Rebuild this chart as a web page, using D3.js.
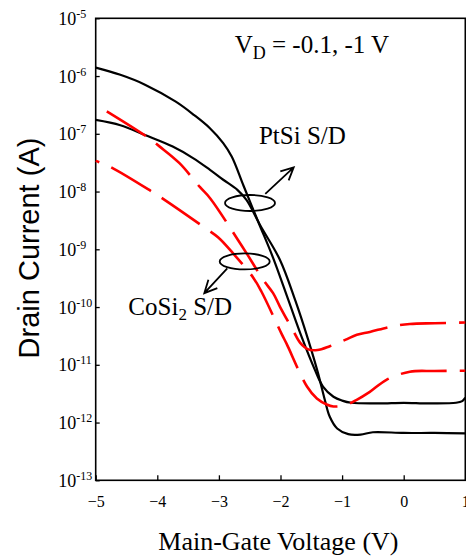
<!DOCTYPE html>
<html>
<head>
<meta charset="utf-8">
<script src="https://cdn.jsdelivr.net/npm/d3@7"></script>
<style>
  body { margin: 0; background: #fff; }
  svg { display: block; }
</style>
</head>
<body>
<div id="chart"></div>
<script>
// gate voltage (V) and drain current (A)
const vPtSiHigh = [-5, -4.6, -4.2, -3.7, -3.4, -3.15, -2.93, -2.79, -2.6, -2.35, -2.12, -1.87, -1.66, -1.44, -1.31, -1.14, -1.0, -0.85, -0.4, 0, 0.4, 0.85, 0.95, 1.0];
const iPtSiHigh = [1.4e-6, 1.05e-6, 7.1e-7, 3.6e-7, 2.1e-7, 1.26e-7, 6.9e-8, 4.0e-8, 1.26e-8, 2.8e-9, 7.1e-10, 1.3e-10, 3.1e-11, 8.1e-12, 4.2e-12, 2.8e-12, 2.4e-12, 2.2e-12, 2.15e-12, 2.2e-12, 2.15e-12, 2.2e-12, 2.35e-12, 2.7e-12];

const vPtSiLow = [-5, -4.6, -4.2, -3.75, -3.42, -3.15, -2.93, -2.7, -2.55, -2.33, -2.01, -1.76, -1.55, -1.39, -1.28, -1.2, -1.08, -0.9, -0.7, -0.5, 0, 0.5, 1.0];
const iPtSiLow = [1.74e-7, 1.41e-7, 9.5e-8, 6.0e-8, 3.8e-8, 2.4e-8, 1.6e-8, 1.07e-8, 7.1e-9, 2.6e-9, 6.6e-10, 1.3e-10, 2.7e-11, 7.1e-12, 2.45e-12, 1.26e-12, 7.9e-13, 6.3e-13, 6.2e-13, 6.8e-13, 6.6e-13, 6.6e-13, 6.5e-13];

const vCoSiHigh = [-4.82, -4.17, -3.96, -3.64, -3.31, -3.14, -2.69, -2.55, -2.28, -2.12, -2.01, -1.8, -1.68, -1.55, -1.4, -1.2, -0.95, -0.76, -0.55, -0.2, 0.1, 0.5, 1.0];
const iCoSiHigh = [2.45e-7, 8.9e-8, 6.0e-8, 3.1e-8, 1.2e-8, 7.6e-9, 1.45e-9, 8.5e-10, 2.95e-10, 1.74e-10, 1.02e-10, 4.0e-11, 2.4e-11, 1.85e-11, 1.8e-11, 2.1e-11, 2.7e-11, 3.3e-11, 3.7e-11, 4.6e-11, 5.1e-11, 5.25e-11, 5.4e-11];

const vCoSiLow = [-5, -4.77, -4.09, -3.9, -3.25, -3.01, -2.77, -2.44, -2.31, -1.98, -1.9, -1.57, -1.41, -1.25, -1.14, -0.95, -0.77, -0.55, -0.28, 0.1, 0.5, 1.0];
const iCoSiLow = [3.4e-8, 2.7e-8, 1.0e-8, 7.4e-9, 2.45e-9, 1.6e-9, 8.5e-10, 3.2e-10, 1.86e-10, 3.4e-11, 2.3e-11, 4.2e-12, 2.6e-12, 2.05e-12, 1.9e-12, 2.0e-12, 2.45e-12, 3.4e-12, 5.5e-12, 7.6e-12, 7.8e-12, 7.9e-12];

const xTicks = [-5, -4, -3, -2, -1, 0, 1];
const yExponents = [-5, -6, -7, -8, -9, -10, -11, -12, -13];

const W = 466, H = 557;
const svg = d3.select("#chart").append("svg")
  .attr("width", W)
  .attr("height", H);

const x = d3.scaleLinear().domain([-5, 1]).range([95.7, 465.3]);
const y = d3.scaleLog().domain([1e-13, 1e-5]).range([480.3, 18.3]);

const serif = "'Liberation Serif', 'Times New Roman', serif";
const sans = "'Liberation Sans', Arial, sans-serif";

// x axis, ticks pointing inward
const xAxis = d3.axisBottom(x)
  .tickValues(xTicks)
  .tickSizeInner(-5)
  .tickSizeOuter(0)
  .tickPadding(15)
  .tickFormat(d3.format("d"));

const gx = svg.append("g")
  .attr("transform", "translate(0," + y(1e-13) + ")")
  .call(xAxis);
gx.select(".domain").remove();
gx.selectAll("text")
  .style("font-family", serif)
  .style("font-size", "16px")
  .attr("fill", "#000");
gx.selectAll("line").attr("stroke-width", 1.3);

// y axis, ticks pointing inward, labels 10^n
const yAxis = d3.axisLeft(y)
  .tickValues(yExponents.map(e => Math.pow(10, e)))
  .tickSizeInner(-4)
  .tickSizeOuter(0)
  .tickFormat("");

const gy = svg.append("g")
  .attr("transform", "translate(" + x(-5) + ",0)")
  .call(yAxis);
gy.select(".domain").remove();
gy.selectAll("line").attr("stroke-width", 1.3);
gy.selectAll(".tick text").remove();
gy.selectAll(".tick").each(function(d) {
  const t = d3.select(this).append("text")
    .attr("x", -37.5)
    .attr("y", 6)
    .attr("text-anchor", "start")
    .attr("fill", "#000")
    .style("font-family", serif)
    .style("font-size", "18px");
  t.append("tspan").text("10");
  t.append("tspan")
    .attr("dy", -7)
    .style("font-size", "12px")
    .text("-" + Math.round(-Math.log10(d)));
});

// frame
svg.append("rect")
  .attr("x", x(-5))
  .attr("y", y(1e-5))
  .attr("width", x(1) - x(-5))
  .attr("height", y(1e-13) - y(1e-5))
  .attr("fill", "none")
  .attr("stroke", "#000")
  .attr("stroke-width", 1.6);

// curves
const line = d3.line()
  .x(d => x(d[0]))
  .y(d => y(d[1]))
  .curve(d3.curveCatmullRom.alpha(0.5));

const series = [
  {v: vPtSiHigh, i: iPtSiHigh, color: "#000", dash: null, off: 0, w: 2.2},
  {v: vPtSiLow, i: iPtSiLow, color: "#000", dash: null, off: 0, w: 2.2},
  {v: vCoSiHigh, i: iCoSiHigh, color: "#ff0000", dash: "46,13", off: 0, w: 2.6},
  {v: vCoSiLow, i: iCoSiLow, color: "#ff0000", dash: "46,13", off: 42, w: 2.6}
];

svg.append("g").selectAll("path")
  .data(series)
  .join("path")
    .attr("d", s => line(s.v.map((v, k) => [v, s.i[k]])))
    .attr("fill", "none")
    .attr("stroke", s => s.color)
    .attr("stroke-width", s => s.w)
    .attr("stroke-dasharray", s => s.dash)
    .attr("stroke-dashoffset", s => s.off);

// annotations
const ann = svg.append("g");

// V_D text
const vd = ann.append("text")
  .attr("x", x(-2.744))
  .attr("y", y(Math.pow(10, -5.606)))
  .style("font-family", serif)
  .style("font-size", "25px");
vd.append("tspan").text("V");
vd.append("tspan").attr("dy", 6).style("font-size", "18px").text("D");
vd.append("tspan").attr("dy", -6).text(" = -0.1, -1 V");

ann.append("text")
  .attr("x", x(-2.35))
  .attr("y", y(Math.pow(10, -7.18)))
  .style("font-family", serif)
  .style("font-size", "25px")
  .text("PtSi S/D");

const co = ann.append("text")
  .attr("x", x(-4.47))
  .attr("y", y(Math.pow(10, -10.14)))
  .style("font-family", serif)
  .style("font-size", "25px");
co.append("tspan").text("CoSi");
co.append("tspan").attr("dy", 5).style("font-size", "17px").text("2");
co.append("tspan").attr("dy", -5).text(" S/D");

function ellipse(v, lg) {
  ann.append("ellipse")
    .attr("cx", x(v))
    .attr("cy", y(Math.pow(10, lg)))
    .attr("rx", 25)
    .attr("ry", 8)
    .attr("fill", "none")
    .attr("stroke", "#000")
    .attr("stroke-width", 1.8);
}

function arrow(v0, l0, v1, l1) {
  const x0 = x(v0), y0 = y(Math.pow(10, l0));
  const x1 = x(v1), y1 = y(Math.pow(10, l1));
  const a = Math.atan2(y1 - y0, x1 - x0);
  const len = 14, spread = 0.45;
  const p = d3.path();
  p.moveTo(x0, y0); p.lineTo(x1, y1);
  p.moveTo(x1 - len * Math.cos(a - spread), y1 - len * Math.sin(a - spread));
  p.lineTo(x1, y1);
  p.lineTo(x1 - len * Math.cos(a + spread), y1 - len * Math.sin(a + spread));
  ann.append("path")
    .attr("d", p.toString())
    .attr("fill", "none")
    .attr("stroke", "#000")
    .attr("stroke-width", 1.8);
}

ellipse(-2.495, -8.198);
arrow(-2.247, -8.04, -1.786, -7.58);
ellipse(-2.581, -9.21);
arrow(-2.864, -9.33, -3.237, -9.76);

// axis titles
svg.append("text")
  .attr("x", 158.3)
  .attr("y", 550)
  .style("font-family", serif)
  .style("font-size", "26px")
  .text("Main-Gate Voltage (V)");

svg.append("text")
  .attr("transform", "translate(39,248) rotate(-90)")
  .attr("text-anchor", "middle")
  .style("font-family", sans)
  .style("font-size", "29px")
  .text("Drain Current (A)");
</script>
</body>
</html>
